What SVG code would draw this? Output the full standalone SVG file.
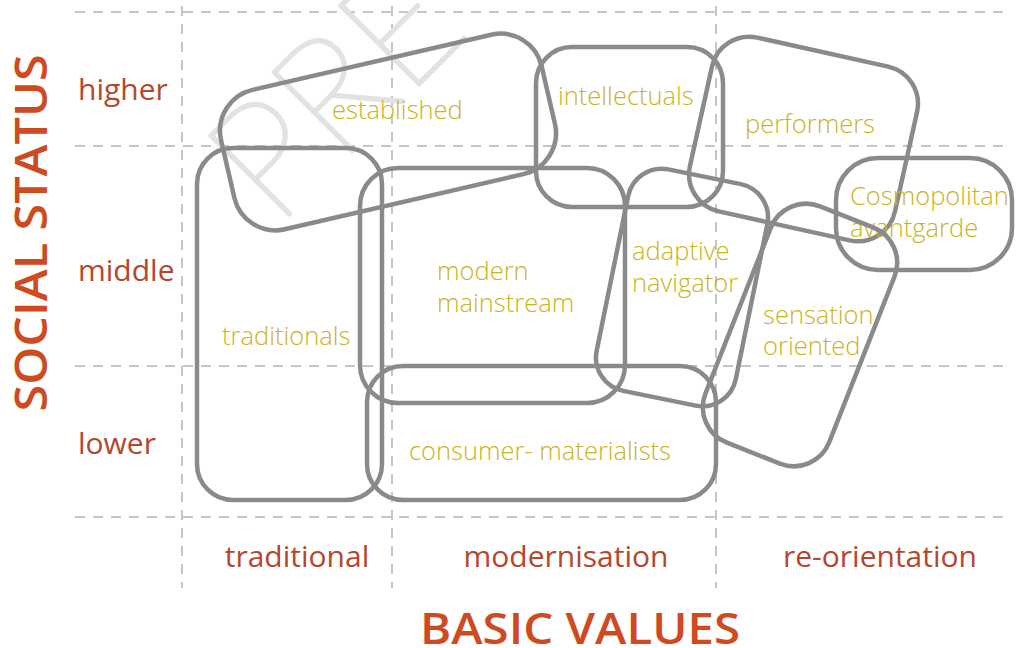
<svg xmlns="http://www.w3.org/2000/svg" width="1016" height="648" viewBox="0 0 1016 648">
<style>
.grid{stroke:#b3b3b3;stroke-width:1.5;stroke-dasharray:10 8;fill:none}
.seg{fill:none;stroke:#8a8a8a;stroke-width:4.5}
.lbl{font-family:"Open Sans","Liberation Sans",sans-serif;font-weight:300;font-size:25.5px;fill:#cbb31a}
.ax{font-family:"Open Sans","Liberation Sans",sans-serif;font-weight:400;font-size:30px;fill:#b4472c}
.ttl{font-family:"Open Sans","Liberation Sans",sans-serif;font-weight:600;fill:#cf4a1f}
.wm{font-family:"Lato","Open Sans",sans-serif;font-weight:200;font-size:160px;fill:#e2e2e2;stroke:#e2e2e2;stroke-width:3.5;stroke-linejoin:round}
</style>
<rect width="1016" height="648" fill="#ffffff"/>
<g id="grid">
<line class="grid" x1="75" y1="12" x2="1005" y2="12"/>
<line class="grid" x1="75" y1="146" x2="1005" y2="146"/>
<line class="grid" x1="75" y1="366" x2="1005" y2="366"/>
<line class="grid" x1="75" y1="517" x2="1005" y2="517"/>
<line class="grid" x1="182" y1="6" x2="182" y2="588"/>
<line class="grid" x1="392" y1="6" x2="392" y2="588"/>
<line class="grid" x1="716" y1="6" x2="716" y2="588"/>
</g>
<text class="wm" x="276" y="228" transform="rotate(-45 276 228)">PRE</text>
<g id="axes">
<text class="ttl" font-size="46" x="0" y="0" text-anchor="middle" transform="translate(47 233) rotate(-90)" textLength="357" lengthAdjust="spacingAndGlyphs">SOCIAL STATUS</text>
<text class="ttl" font-size="43" x="580" y="644" text-anchor="middle" textLength="320" lengthAdjust="spacingAndGlyphs">BASIC VALUES</text>
<text class="ax" x="78" y="100">higher</text>
<text class="ax" x="78" y="281">middle</text>
<text class="ax" x="78" y="454">lower</text>
<text class="ax" x="297" y="567" text-anchor="middle">traditional</text>
<text class="ax" x="566" y="567" text-anchor="middle">modernisation</text>
<text class="ax" x="880" y="567" text-anchor="middle">re-orientation</text>
</g>
<g id="traditionals">
<rect class="seg" x="197" y="148" width="185" height="352" rx="36"/>
<text class="lbl" x="222" y="345">traditionals</text>
</g>
<g id="established">
<rect class="seg" x="223.5" y="60.5" width="329" height="143" rx="42" transform="rotate(-13 388 132)"/>
<text class="lbl" x="332" y="119">established</text>
</g>
<g id="intellectuals">
<rect class="seg" x="536" y="47" width="187" height="160" rx="36"/>
<text class="lbl" x="558" y="105">intellectuals</text>
</g>
<g id="performers">
<rect class="seg" x="698.5" y="50" width="210" height="178" rx="38" transform="rotate(12.5 803.5 139)"/>
<text class="lbl" x="745" y="133">performers</text>
</g>
<g id="cosmopolitan">
<rect class="seg" x="836" y="158" width="176" height="112" rx="42"/>
<text class="lbl" x="850" y="205">Cosmopolitan</text>
<text class="lbl" x="850" y="237">avantgarde</text>
</g>
<g id="modern-mainstream">
<rect class="seg" x="360" y="168" width="265" height="235" rx="38"/>
<text class="lbl" x="437" y="280">modern</text>
<text class="lbl" x="437" y="312">mainstream</text>
</g>
<g id="adaptive-navigator">
<rect class="seg" x="611" y="174.5" width="142" height="226" rx="34" transform="rotate(11.5 682 287.5)"/>
<text class="lbl" x="632" y="260">adaptive</text>
<text class="lbl" x="632" y="292">navigator</text>
</g>
<g id="sensation-oriented">
<rect class="seg" x="733.5" y="208" width="133" height="254" rx="38" transform="rotate(21.5 800 335)"/>
<text class="lbl" x="763" y="324">sensation</text>
<text class="lbl" x="763" y="355">oriented</text>
</g>
<g id="consumer-materialists">
<rect class="seg" x="367" y="366" width="349" height="134" rx="36"/>
<text class="lbl" x="409" y="460">consumer- materialists</text>
</g>
<g id="connectors"></g>
</svg>
